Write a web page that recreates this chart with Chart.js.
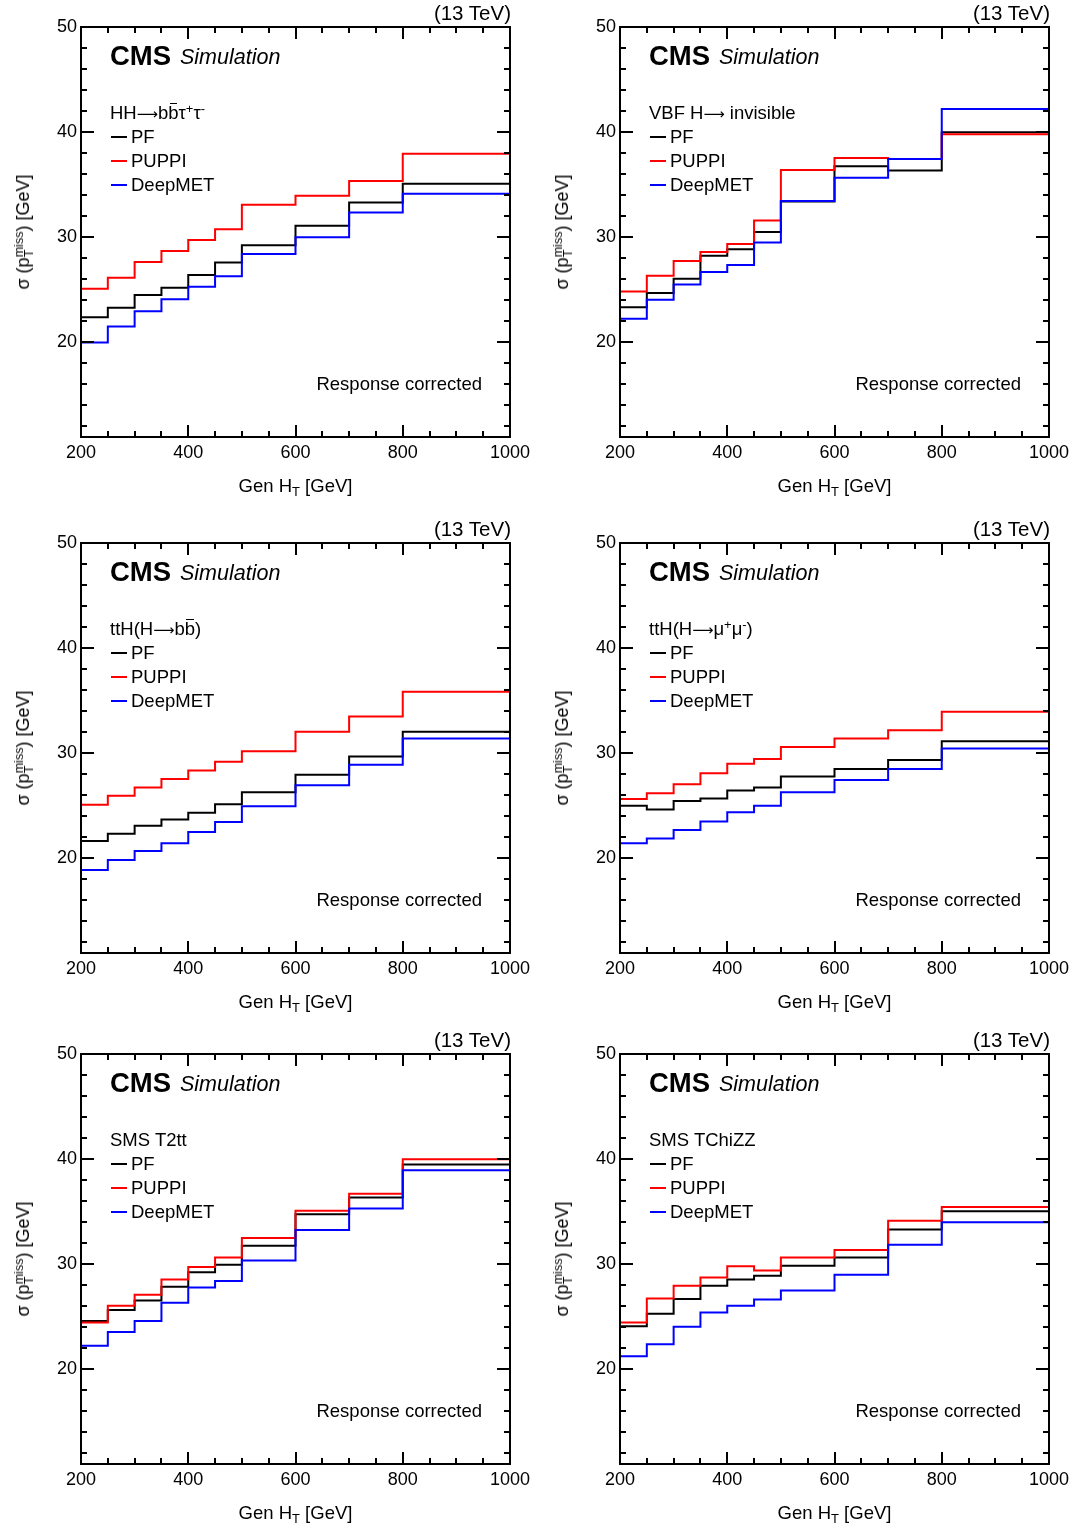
<!DOCTYPE html>
<html><head><meta charset="utf-8">
<script src="https://cdn.jsdelivr.net/npm/chart.js@4.4.0/dist/chart.umd.min.js"></script>
<style>
html,body{margin:0;padding:0;background:#fff;}
#page{position:relative;width:1075px;height:1532px;background:#fff;overflow:hidden;font-family:"Liberation Sans",Arial,Helvetica,sans-serif;color:#000;}
.panel{position:absolute;width:539px;height:516px;}
.panel canvas{position:absolute;left:0;top:0;}
.t{position:absolute;white-space:nowrap;line-height:1;}
.sup{font-size:0.7em;position:relative;top:-0.5em;line-height:0;}
.sub{font-size:0.7em;position:relative;top:0.3em;line-height:0;}
.ov{position:relative;}
.ov::after{content:"";position:absolute;left:0.08em;right:0.08em;top:0.04em;height:1.3px;background:#000;}
.ar{font-family:"DejaVu Sans",sans-serif;font-size:0.8em;line-height:0;position:relative;top:-0.05em;}
.mk{position:absolute;height:2px;width:16px;}
</style>
</head><body><div id="page"></div>
<script>
// ---------------- data ----------------
const binEdges = [200, 250, 300, 350, 400, 450, 500, 600, 700, 800, 1000];
const xTickValues = [200, 400, 600, 800, 1000];
const yTickValues = [20, 30, 40, 50];
const yMin = 11, yMax = 50;

const hhPF      = [22.4, 23.3, 24.5, 25.2, 26.4, 27.6, 29.25, 31.1, 33.3, 35.1];
const hhPUPPI   = [25.1, 26.15, 27.65, 28.7, 29.75, 30.75, 33.1, 33.95, 35.35, 37.95];
const hhDeepMET = [20.0, 21.5, 22.95, 24.1, 25.3, 26.3, 28.4, 30.0, 32.35, 34.15];

const vbfPF      = [23.35, 24.7, 26.05, 28.25, 28.85, 30.5, 33.4, 36.75, 36.35, 40.0];
const vbfPUPPI   = [24.85, 26.35, 27.75, 28.6, 29.35, 31.6, 36.4, 37.55, 37.45, 39.8];
const vbfDeepMET = [22.25, 24.05, 25.5, 26.7, 27.35, 29.5, 33.45, 35.65, 37.45, 42.2];

const tthbbPF      = [21.65, 22.35, 23.1, 23.7, 24.35, 25.15, 26.3, 27.95, 29.7, 32.05];
const tthbbPUPPI   = [25.1, 25.95, 26.75, 27.55, 28.35, 29.2, 30.2, 32.05, 33.5, 35.85];
const tthbbDeepMET = [18.9, 19.85, 20.7, 21.45, 22.5, 23.45, 24.95, 26.95, 28.9, 31.4];

const tthmumuPF      = [25.0, 24.65, 25.45, 25.7, 26.45, 26.75, 27.8, 28.5, 29.35, 31.15];
const tthmumuPUPPI   = [25.65, 26.2, 27.05, 28.1, 29.0, 29.45, 30.6, 31.4, 32.2, 33.95];
const tthmumuDeepMET = [21.45, 21.9, 22.7, 23.5, 24.4, 25.0, 26.3, 27.45, 28.5, 30.45];

const t2ttPF      = [24.6, 25.65, 26.55, 27.85, 29.25, 29.95, 31.75, 34.75, 36.35, 39.5];
const t2ttPUPPI   = [24.45, 26.05, 27.1, 28.55, 29.75, 30.65, 32.5, 35.1, 36.7, 40.0];
const t2ttDeepMET = [22.25, 23.55, 24.6, 26.35, 27.8, 28.4, 30.35, 33.25, 35.3, 38.95];

const tchizzPF      = [24.1, 25.3, 26.7, 27.95, 28.55, 28.9, 29.85, 30.65, 33.3, 35.05];
const tchizzPUPPI   = [24.45, 26.75, 27.95, 28.75, 29.8, 29.4, 30.65, 31.35, 34.15, 35.45];
const tchizzDeepMET = [21.25, 22.4, 24.05, 25.4, 26.05, 26.65, 27.5, 29.0, 31.85, 34.0];

const seriesNames = ['PF', 'PUPPI', 'DeepMET'];
const processLabels = [
  'HH<span class="ar">⟶</span>b<span class="ov">b</span>τ<span class="sup">+</span>τ<span class="sup">-</span>',
  'VBF H<span class="ar">⟶</span> invisible',
  'ttH(H<span class="ar">⟶</span>b<span class="ov">b</span>)',
  'ttH(H<span class="ar">⟶</span>μ<span class="sup">+</span>μ<span class="sup">-</span>)',
  'SMS T2tt',
  'SMS TChiZZ'
];
const panelSeries = [
  [hhPF, hhPUPPI, hhDeepMET],
  [vbfPF, vbfPUPPI, vbfDeepMET],
  [tthbbPF, tthbbPUPPI, tthbbDeepMET],
  [tthmumuPF, tthmumuPUPPI, tthmumuDeepMET],
  [t2ttPF, t2ttPUPPI, t2ttDeepMET],
  [tchizzPF, tchizzPUPPI, tchizzDeepMET]
];

// ---------------- style / layout ----------------
const seriesColors = ['#000000', '#ff0000', '#0000ff'];
const colLeft = [0, 539];
const rowTop = [0, 516, 1027];
const PW = 539, PH = 516;
const AREA = {left: 81, right: 510, top: 27, bottom: 437};
const TICK_FONT = {family: 'Liberation Sans', size: 18};

function toSteps(vals) {
  const pts = vals.map((v, i) => ({x: binEdges[i], y: v}));
  pts.push({x: binEdges[binEdges.length - 1], y: vals[vals.length - 1]});
  return pts;
}

const frameTicks = {
  id: 'frameTicks',
  afterDraw(chart) {
    const {ctx, chartArea: a, scales: {x, y}} = chart;
    ctx.save();
    ctx.strokeStyle = '#000';
    ctx.lineWidth = 2;
    ctx.beginPath();
    for (let v = x.min; v <= x.max + 1e-6; v += 50) {
      const px = Math.round(x.getPixelForValue(v));
      const L = (v % 200 === 0) ? 12 : 6;
      ctx.moveTo(px, a.bottom); ctx.lineTo(px, a.bottom - L);
      ctx.moveTo(px, a.top); ctx.lineTo(px, a.top + L);
    }
    for (let v = 12; v <= y.max + 1e-6; v += 2) {
      const py = Math.round(y.getPixelForValue(v));
      const L = (v % 10 === 0) ? 13 : 6;
      ctx.moveTo(a.left, py); ctx.lineTo(a.left + L, py);
      ctx.moveTo(a.right, py); ctx.lineTo(a.right - L, py);
    }
    ctx.stroke();
    ctx.strokeRect(a.left, a.top, a.right - a.left, a.bottom - a.top);
    ctx.restore();
  }
};

function addText(parent, html, x, base, size, align, extraStyle) {
  const d = document.createElement('div');
  d.className = 't';
  d.innerHTML = html;
  d.style.fontSize = size + 'px';
  d.style.top = (base - 0.8465 * size) + 'px';
  if (align === 'right') d.style.right = (PW - x) + 'px';
  else if (align === 'center') { d.style.left = x + 'px'; d.style.transform = 'translateX(-50%)'; }
  else d.style.left = x + 'px';
  if (extraStyle) Object.assign(d.style, extraStyle);
  parent.appendChild(d);
  return d;
}

const page = document.getElementById('page');
panelSeries.forEach((series, idx) => {
  const col = idx % 2, row = Math.floor(idx / 2);
  const panel = document.createElement('div');
  panel.className = 'panel';
  panel.style.left = colLeft[col] + 'px';
  panel.style.top = rowTop[row] + 'px';
  page.appendChild(panel);
  const cv = document.createElement('canvas');
  cv.width = PW; cv.height = PH;
  cv.style.width = PW + 'px'; cv.style.height = PH + 'px';
  panel.appendChild(cv);

  // draw order: PF bottom, PUPPI, DeepMET on top
  const datasets = [2, 1, 0].map(k => ({
    label: seriesNames[k],
    data: toSteps(series[k]),
    borderColor: seriesColors[k],
    backgroundColor: seriesColors[k],
    borderWidth: 2,
    pointRadius: 0,
    stepped: 'before',
    fill: false,
    tension: 0
  }));

  new Chart(cv, {
    type: 'line',
    data: {datasets},
    options: {
      responsive: false,
      animation: false,
      devicePixelRatio: 1,
      layout: {padding: {left: 0, top: AREA.top, right: PW - AREA.right, bottom: 0}},
      plugins: {legend: {display: false}, tooltip: {enabled: false}, title: {display: false}},
      scales: {
        x: {
          type: 'linear', min: binEdges[0], max: binEdges[binEdges.length - 1], position: 'bottom',
          afterFit(s) { s.height = PH - AREA.bottom; },
          afterBuildTicks(s) { s.ticks = xTickValues.map(v => ({value: v})); },
          grid: {display: false, drawTicks: false},
          border: {display: false},
          ticks: {font: TICK_FONT, color: '#000', padding: 5, maxRotation: 0, autoSkip: false,
                  callback: v => String(v)}
        },
        y: {
          type: 'linear', min: yMin, max: yMax, position: 'left',
          afterFit(s) { s.width = AREA.left; },
          afterBuildTicks(s) { s.ticks = yTickValues.map(v => ({value: v})); },
          grid: {display: false, drawTicks: false},
          border: {display: false},
          ticks: {font: TICK_FONT, color: '#000', padding: 4, autoSkip: false,
                  callback: v => String(v)}
        }
      }
    },
    plugins: [frameTicks]
  });

  // texts
  addText(panel, '(13 TeV)', 511, 20, 20.5, 'right');
  addText(panel, 'CMS', 110, 65, 27.5, 'left', {fontWeight: 'bold'});
  addText(panel, 'Simulation', 180, 65, 21.5, 'left', {fontStyle: 'italic'});
  addText(panel, processLabels[idx], 110, 120, 18.5, 'left');
  const bases = [143.5, 167.5, 191.5];
  seriesNames.forEach((nm, k) => {
    addText(panel, nm, 131, bases[k], 18.5, 'left');
    const m = document.createElement('div');
    m.className = 'mk';
    m.style.left = '111px';
    m.style.top = (bases[k] - 7.5) + 'px';
    m.style.background = seriesColors[k];
    panel.appendChild(m);
  });
  addText(panel, 'Response corrected', 482, 391, 18.5, 'right');
  addText(panel, 'Gen H<span class="sub">T</span> [GeV]', 295.5, 493, 18.5, 'center');
  const yt = document.createElement('div');
  yt.className = 't';
  yt.style.fontSize = '18px';
  yt.style.left = '23px';
  yt.style.top = '232px';
  yt.style.transform = 'translate(-50%,-50%) rotate(-90deg)';
  yt.innerHTML = 'σ (p<span class="sup">miss</span><span class="sub" style="margin-left:-25.9px">T</span><span style="margin-left:18.2px">) [GeV]</span>';
  panel.appendChild(yt);
});
</script>
</body></html>
